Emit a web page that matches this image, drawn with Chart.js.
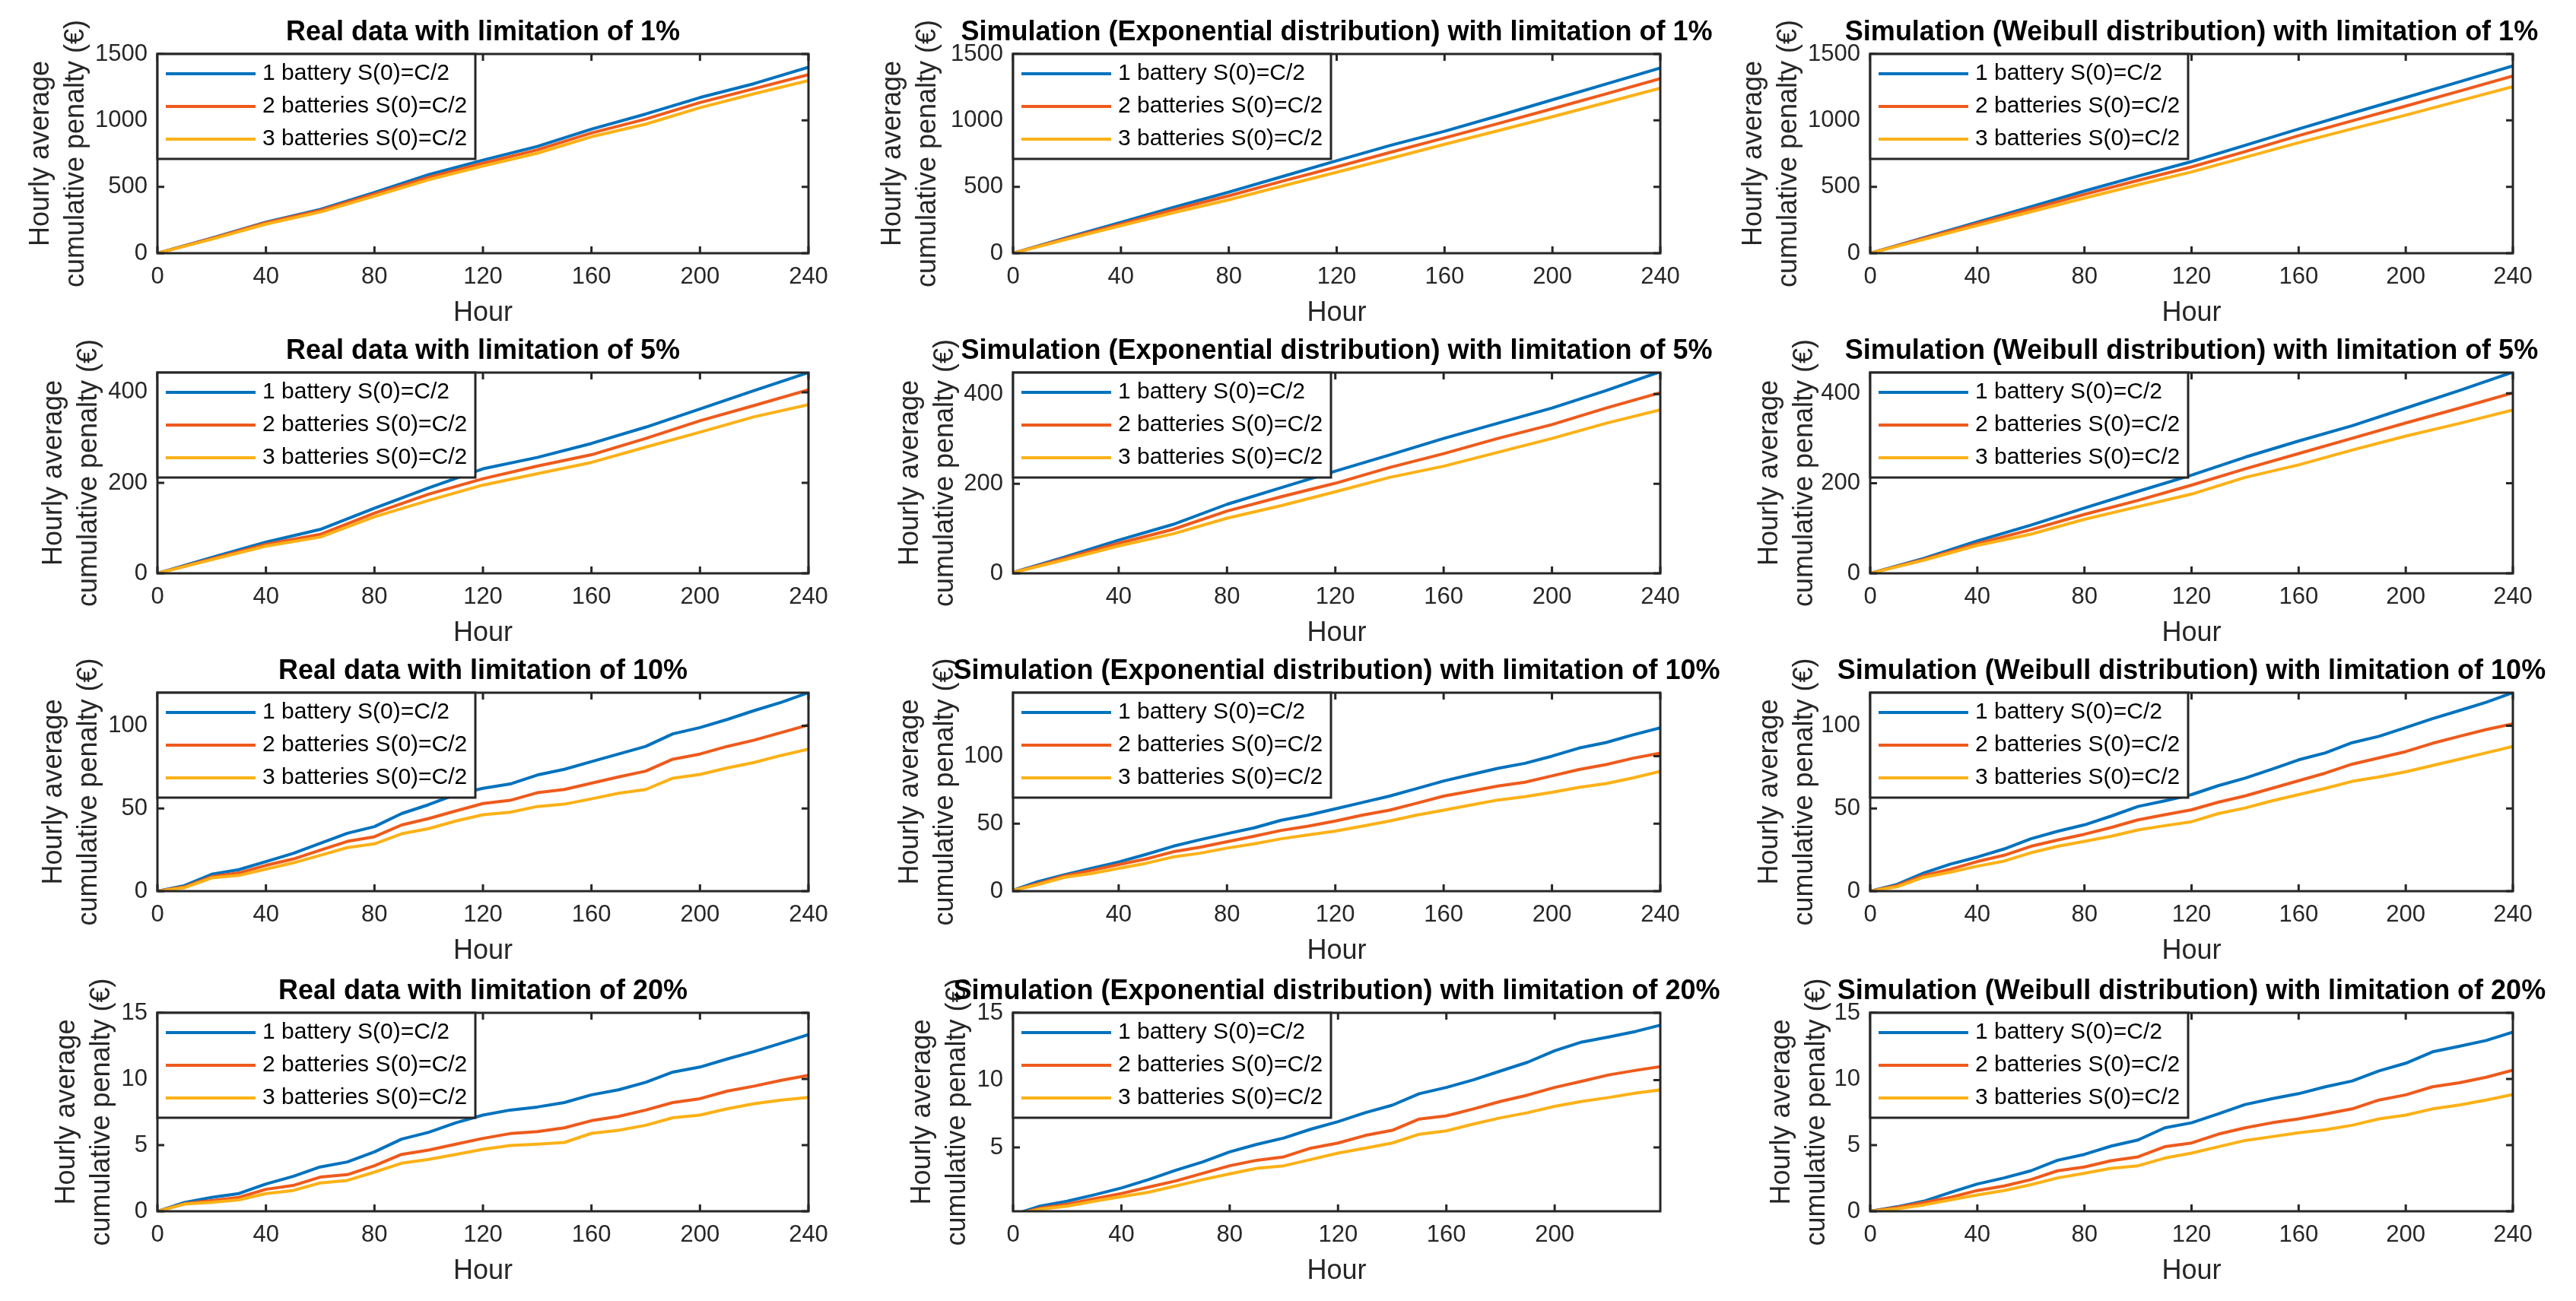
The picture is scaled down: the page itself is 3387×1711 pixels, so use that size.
<!DOCTYPE html>
<html>
<head>
<meta charset="utf-8">
<title>Hourly average cumulative penalty</title>
<script src="https://cdn.jsdelivr.net/npm/chart.js@4.4.1/dist/chart.umd.min.js"></script>
<style>
  html, body { margin: 0; padding: 0; background: #fff; overflow: hidden; }
  #page { position: relative; width: 3387px; height: 1711px; }
  #page canvas { position: absolute; }
</style>
</head>
<body>
<div id="page"></div>
<script>
/* =========================
   DATA
   ========================= */
const hours20 = [0, 20, 40, 60, 80, 100, 120, 140, 160, 180, 200, 220, 240];
const hours10 = [0, 10, 20, 30, 40, 50, 60, 70, 80, 90, 100, 110, 120, 130, 140, 150, 160, 170, 180, 190, 200, 210, 220, 230, 240];

const seriesLabels = ["1 battery S(0)=C/2", "2 batteries S(0)=C/2", "3 batteries S(0)=C/2"];
const xTickValues = [0, 40, 80, 120, 160, 200, 240];

// limitation 1%
const real1Blue   = [0, 114, 234, 330, 457, 591, 701, 804, 934, 1048, 1172, 1277, 1401];
const real1Orange = [0, 110, 229, 322, 445, 572, 677, 778, 905, 1010, 1134, 1239, 1344];
const real1Yellow = [0, 105, 219, 310, 430, 553, 657, 753, 877, 972, 1096, 1201, 1300];
const exp1Blue    = [0, 118, 232, 348, 460, 578, 696, 812, 918, 1035, 1155, 1275, 1395];
const exp1Orange  = [0, 112, 220, 330, 432, 543, 650, 760, 868, 977, 1088, 1200, 1315];
const exp1Yellow  = [0, 105, 207, 308, 402, 507, 610, 714, 820, 923, 1028, 1135, 1243];
const wei1Blue    = [0, 117, 234, 350, 468, 580, 690, 812, 935, 1055, 1172, 1290, 1410];
const wei1Orange  = [0, 112, 224, 333, 443, 548, 650, 765, 885, 997, 1108, 1220, 1334];
const wei1Yellow  = [0, 104, 208, 312, 415, 515, 612, 722, 832, 937, 1040, 1147, 1254];

// limitation 5%
const real5Blue   = [0, 35, 69, 97, 144, 189, 231, 256, 287, 323, 363, 404, 443.6];
const real5Orange = [0, 32, 64, 86, 133, 175, 209, 237, 262, 298, 337, 371, 405.6];
const real5Yellow = [0, 30, 60, 80, 125, 161, 195, 220, 245, 279, 312, 346, 372.6];
const exp5Blue    = [0, 36, 74, 109, 154, 191, 228, 264, 301, 335, 369, 408, 450];
const exp5Orange  = [0, 33, 67, 98, 139, 171, 201, 236, 267, 301, 332, 369, 403];
const exp5Yellow  = [0, 30, 61, 88, 123, 151, 182, 214, 239, 270, 301, 335, 365];
const wei5Blue    = [0, 33, 72, 107, 145, 182, 218, 258, 294, 328, 367, 406, 447];
const wei5Orange  = [0, 31, 66, 97, 131, 162, 196, 232, 266, 300, 334, 367, 401];
const wei5Yellow  = [0, 29, 62, 87, 120, 148, 176, 213, 241, 274, 305, 333, 363];

// limitation 10%
const real10Blue   = [0, 3.4, 10.2, 13, 17.9, 22.8, 28.9, 35, 39, 46.9, 52.3, 58.4, 62.2, 64.8, 70.2, 73.7, 78.3, 82.9, 87.5, 95.1, 98.9, 103.8, 109.2, 114.2, 120];
const real10Orange = [0, 2.6, 8.7, 11, 15.6, 19.4, 24.8, 30.1, 32.9, 40, 43.9, 48.5, 53, 54.9, 59.5, 61.5, 65.3, 69.1, 72.6, 79.8, 82.9, 87.5, 91.3, 95.9, 100.5];
const real10Yellow = [0, 2.1, 8, 9.5, 13.3, 17.1, 21.7, 26.3, 28.6, 34.7, 37.8, 42.4, 46.2, 47.7, 51.2, 52.6, 55.8, 59.2, 61.5, 68.3, 70.6, 74.5, 77.8, 82.1, 85.9];
const exp10Blue    = [0, 6.9, 12.2, 16.9, 21.6, 27.2, 33.2, 38.1, 42.6, 46.9, 52.5, 56.3, 61, 65.7, 70.4, 76, 81.6, 86.3, 91, 94.7, 100, 106, 110.1, 115.8, 121];
const exp10Orange  = [0, 5.6, 11.3, 15.4, 19.7, 23.8, 29.1, 32.5, 36.6, 40.7, 45, 48.2, 52, 56.3, 60, 65.1, 70.4, 74.1, 77.9, 80.7, 85.4, 90.1, 93.8, 98.5, 102.3];
const exp10Yellow  = [0, 4.7, 10.3, 13.1, 16.9, 20.6, 25.3, 28.1, 31.9, 35.1, 38.8, 41.7, 44.5, 48.2, 52, 56.3, 60, 63.8, 67.5, 70, 73.2, 76.9, 79.7, 83.9, 88.7];
const wei10Blue    = [0, 4.1, 11, 16.4, 20.6, 25.5, 31.7, 36.2, 40.1, 45.4, 51.2, 54.6, 58.4, 63.8, 68.3, 73.7, 79.4, 83.6, 89.8, 93.6, 98.9, 104.3, 109.2, 114.2, 120];
const wei10Orange  = [0, 3.4, 9.5, 13.3, 17.9, 21.7, 27.1, 30.9, 34.4, 38.5, 43.1, 46.2, 49.2, 53.8, 57.6, 62.2, 66.8, 71.4, 76.8, 80.6, 84.4, 89.4, 93.6, 97.7, 101.2];
const wei10Yellow  = [0, 2.6, 8.4, 11.5, 15.1, 18.2, 23.2, 27.1, 30.1, 33.2, 37, 39.6, 42, 46.9, 50.3, 54.6, 58.4, 62.2, 66.4, 69.1, 72.2, 76, 79.8, 83.6, 87.5];

// limitation 20%
const real20Blue   = [0, 0.67, 1.05, 1.34, 2.06, 2.64, 3.35, 3.73, 4.49, 5.45, 5.97, 6.69, 7.27, 7.65, 7.88, 8.22, 8.8, 9.18, 9.75, 10.52, 10.9, 11.51, 12.08, 12.71, 13.35];
const real20Orange = [0, 0.57, 0.8, 1.05, 1.66, 1.95, 2.58, 2.77, 3.44, 4.3, 4.63, 5.07, 5.51, 5.87, 6.02, 6.31, 6.85, 7.17, 7.65, 8.22, 8.51, 9.08, 9.46, 9.9, 10.27];
const real20Yellow = [0, 0.54, 0.67, 0.86, 1.34, 1.57, 2.14, 2.33, 2.96, 3.63, 3.92, 4.3, 4.68, 4.97, 5.07, 5.2, 5.89, 6.12, 6.5, 7.07, 7.27, 7.74, 8.13, 8.41, 8.6];
const exp20Blue    = [0, 0.64, 1.01, 1.48, 1.99, 2.61, 3.3, 3.92, 4.67, 5.23, 5.7, 6.36, 6.92, 7.58, 8.14, 8.99, 9.46, 10.02, 10.68, 11.33, 12.18, 12.83, 13.21, 13.62, 14.13];
const exp20Orange  = [0, 0.49, 0.79, 1.2, 1.58, 2.05, 2.51, 3.08, 3.64, 4.05, 4.3, 4.95, 5.33, 5.89, 6.27, 7.11, 7.35, 7.86, 8.42, 8.89, 9.46, 9.92, 10.39, 10.73, 11.03];
const exp20Yellow  = [0, 0.41, 0.64, 1.01, 1.35, 1.67, 2.14, 2.61, 3.04, 3.45, 3.64, 4.11, 4.58, 4.95, 5.33, 5.98, 6.23, 6.74, 7.2, 7.58, 8.05, 8.42, 8.71, 9.04, 9.3];
const wei20Blue    = [0, 0.34, 0.76, 1.43, 2.06, 2.52, 3.06, 3.86, 4.3, 4.93, 5.39, 6.31, 6.69, 7.36, 8.07, 8.51, 8.89, 9.41, 9.85, 10.61, 11.19, 12.05, 12.47, 12.91, 13.54];
const wei20Orange  = [0, 0.29, 0.67, 1.05, 1.57, 1.91, 2.39, 3.06, 3.35, 3.82, 4.11, 4.88, 5.16, 5.83, 6.31, 6.69, 6.98, 7.36, 7.74, 8.41, 8.8, 9.41, 9.71, 10.13, 10.67];
const wei20Yellow  = [0, 0.19, 0.48, 0.86, 1.24, 1.57, 2.01, 2.52, 2.87, 3.25, 3.44, 4.02, 4.4, 4.88, 5.35, 5.64, 5.93, 6.16, 6.5, 6.98, 7.27, 7.74, 8.03, 8.41, 8.83];

/* =========================
   PANELS (row by row)
   ========================= */
const panels = [
  { title: "Real data with limitation of 1%", hours: hours20, series: [real1Blue, real1Orange, real1Yellow], xMin: 0, xMax: 240, yMin: 0, yMax: 1500, yTicks: [0, 500, 1000, 1500] },
  { title: "Simulation (Exponential distribution) with limitation of 1%", hours: hours20, series: [exp1Blue, exp1Orange, exp1Yellow], xMin: 0, xMax: 240, yMin: 0, yMax: 1500, yTicks: [0, 500, 1000, 1500] },
  { title: "Simulation (Weibull distribution) with limitation of 1%", hours: hours20, series: [wei1Blue, wei1Orange, wei1Yellow], xMin: 0, xMax: 240, yMin: 0, yMax: 1500, yTicks: [0, 500, 1000, 1500] },

  { title: "Real data with limitation of 5%", hours: hours20, series: [real5Blue, real5Orange, real5Yellow], xMin: 0, xMax: 240, yMin: 0, yMax: 443.6, yTicks: [0, 200, 400] },
  { title: "Simulation (Exponential distribution) with limitation of 5%", hours: hours20, series: [exp5Blue, exp5Orange, exp5Yellow], xMin: 1, xMax: 240, yMin: 0, yMax: 448, yTicks: [0, 200, 400] },
  { title: "Simulation (Weibull distribution) with limitation of 5%", hours: hours20, series: [wei5Blue, wei5Orange, wei5Yellow], xMin: 0, xMax: 240, yMin: 0, yMax: 446, yTicks: [0, 200, 400] },

  { title: "Real data with limitation of 10%", hours: hours10, series: [real10Blue, real10Orange, real10Yellow], xMin: 0, xMax: 240, yMin: 0, yMax: 120, yTicks: [0, 50, 100] },
  { title: "Simulation (Exponential distribution) with limitation of 10%", hours: hours10, series: [exp10Blue, exp10Orange, exp10Yellow], xMin: 1, xMax: 240, yMin: 0, yMax: 147, yTicks: [0, 50, 100] },
  { title: "Simulation (Weibull distribution) with limitation of 10%", hours: hours10, series: [wei10Blue, wei10Orange, wei10Yellow], xMin: 0, xMax: 240, yMin: 0, yMax: 120, yTicks: [0, 50, 100] },

  { title: "Real data with limitation of 20%", hours: hours10, series: [real20Blue, real20Orange, real20Yellow], xMin: 0, xMax: 240, yMin: 0, yMax: 15, yTicks: [0, 5, 10, 15] },
  { title: "Simulation (Exponential distribution) with limitation of 20%", hours: hours10, series: [exp20Blue, exp20Orange, exp20Yellow], xMin: 0, xMax: 239, yMin: 0.26, yMax: 15, yTicks: [0, 5, 10, 15] },
  { title: "Simulation (Weibull distribution) with limitation of 20%", hours: hours10, series: [wei20Blue, wei20Orange, wei20Yellow], xMin: 0, xMax: 240, yMin: 0, yMax: 15, yTicks: [0, 5, 10, 15] },
];

/* =========================
   LAYOUT / STYLE
   ========================= */
const colLeft = [207, 1332, 2459];
const colWidth = [856, 851, 845];
const rowTop = [71, 490, 911, 1332];
const rowHeight = [262, 264, 261, 261];
// distance from the axes' left edge to the centre of the first y-label line
const yLabelOffset = [[153, 158, 153], [136, 135, 132], [136, 135, 132], [119, 119, 116]];

const MARGIN_L = 207, MARGIN_T = 71, MARGIN_R = 90, MARGIN_B = 102;
const lineColors = ["#0072BD", "#EE5A1C", "#FBB117"];
const axisColor = "#262626";
const FONT = "'Liberation Sans', Arial, Helvetica, sans-serif";
const TICK_LEN = 9;
const LINE_W = 4;

Chart.defaults.font.family = FONT;
Chart.defaults.color = axisColor;

/* =========================
   MATLAB-like frame: box, inner ticks, legend, title
   ========================= */
const matlabFrame = {
  id: "matlabFrame",
  afterDraw(chart, args, opts) {
    const { ctx, chartArea: a, scales } = chart;
    ctx.save();

    ctx.strokeStyle = axisColor;
    ctx.lineWidth = 3;
    ctx.beginPath();
    scales.x.ticks.forEach((t) => {
      const px = scales.x.getPixelForValue(t.value);
      ctx.moveTo(px, a.bottom);
      ctx.lineTo(px, a.bottom - TICK_LEN);
      ctx.moveTo(px, a.top);
      ctx.lineTo(px, a.top + TICK_LEN);
    });
    scales.y.ticks.forEach((t) => {
      const py = scales.y.getPixelForValue(t.value);
      ctx.moveTo(a.left, py);
      ctx.lineTo(a.left + TICK_LEN, py);
      ctx.moveTo(a.right, py);
      ctx.lineTo(a.right - TICK_LEN, py);
    });
    ctx.stroke();
    ctx.strokeRect(a.left, a.top, a.right - a.left, a.bottom - a.top);

    // legend box, top-left inside the axes
    const lw = 418, lh = 138;
    ctx.fillStyle = "#fff";
    ctx.fillRect(a.left, a.top, lw, lh);
    ctx.lineWidth = 3;
    ctx.strokeStyle = axisColor;
    ctx.strokeRect(a.left, a.top, lw, lh);
    ctx.font = `30px ${FONT}`;
    ctx.textAlign = "left";
    ctx.textBaseline = "middle";
    chart.data.datasets.forEach((ds, i) => {
      const y = a.top + 26 + i * 43;
      ctx.strokeStyle = ds.borderColor;
      ctx.lineWidth = LINE_W;
      ctx.beginPath();
      ctx.moveTo(a.left + 11, y);
      ctx.lineTo(a.left + 129, y);
      ctx.stroke();
      ctx.fillStyle = "#000";
      ctx.fillText(ds.label, a.left + 138, y);
    });

    // title
    ctx.font = `bold 36px ${FONT}`;
    ctx.textAlign = "center";
    ctx.fillStyle = "#000";
    ctx.fillText(opts.title, (a.left + a.right) / 2, a.top - 28);

    ctx.restore();
  },
};

/* =========================
   BUILD
   ========================= */
const page = document.getElementById("page");

panels.forEach((p, i) => {
  const r = Math.floor(i / 3);
  const c = i % 3;
  const w = MARGIN_L + colWidth[c] + MARGIN_R;
  const h = MARGIN_T + rowHeight[r] + MARGIN_B;

  const canvas = document.createElement("canvas");
  canvas.width = w;
  canvas.height = h;
  canvas.style.width = w + "px";
  canvas.style.height = h + "px";
  canvas.style.left = colLeft[c] - MARGIN_L + "px";
  canvas.style.top = rowTop[r] - MARGIN_T + "px";
  page.appendChild(canvas);

  const datasets = p.series.map((vals, k) => ({
    label: seriesLabels[k],
    data: p.hours.map((hr, j) => ({ x: hr, y: vals[j] })),
    borderColor: lineColors[k],
    backgroundColor: lineColors[k],
    borderWidth: LINE_W,
    borderJoinStyle: "round",
    pointRadius: 0,
    tension: 0,
    fill: false,
    order: 2 - k,
  }));

  new Chart(canvas, {
    type: "line",
    data: { datasets },
    plugins: [matlabFrame],
    options: {
      responsive: false,
      maintainAspectRatio: false,
      animation: false,
      events: [],
      layout: { padding: { left: 0, top: MARGIN_T, right: MARGIN_R, bottom: 0 } },
      plugins: {
        legend: { display: false },
        tooltip: { enabled: false },
        matlabFrame: { title: p.title },
      },
      scales: {
        x: {
          type: "linear",
          min: p.xMin,
          max: p.xMax,
          grid: { display: false, drawTicks: false },
          border: { display: false },
          afterBuildTicks: (s) => {
            s.ticks = xTickValues.filter((v) => v >= p.xMin && v <= p.xMax).map((v) => ({ value: v }));
          },
          afterFit: (s) => { s.height = MARGIN_B; },
          ticks: {
            autoSkip: false,
            maxRotation: 0,
            padding: 13,
            color: axisColor,
            font: { size: 31 },
            callback: (v) => String(v),
          },
          title: {
            display: true,
            text: "Hour",
            color: axisColor,
            font: { size: 36, lineHeight: 1.28 },
            padding: { top: 0, bottom: 0 },
          },
        },
        y: {
          min: p.yMin,
          max: p.yMax,
          grid: { display: false, drawTicks: false },
          border: { display: false },
          afterBuildTicks: (s) => {
            s.ticks = p.yTicks.filter((v) => v >= p.yMin && v <= p.yMax).map((v) => ({ value: v }));
          },
          afterFit: (s) => { s.width = MARGIN_L; },
          ticks: {
            autoSkip: false,
            padding: 13,
            color: axisColor,
            font: { size: 31 },
            callback: (v) => String(v),
          },
          title: {
            display: true,
            text: ["Hourly average", "cumulative penalty (€)"],
            color: axisColor,
            font: { size: 36, lineHeight: 1.28 },
            padding: { top: 184 - yLabelOffset[r][c], bottom: 0 },
          },
        },
      },
    },
  });
});
</script>
</body>
</html>
